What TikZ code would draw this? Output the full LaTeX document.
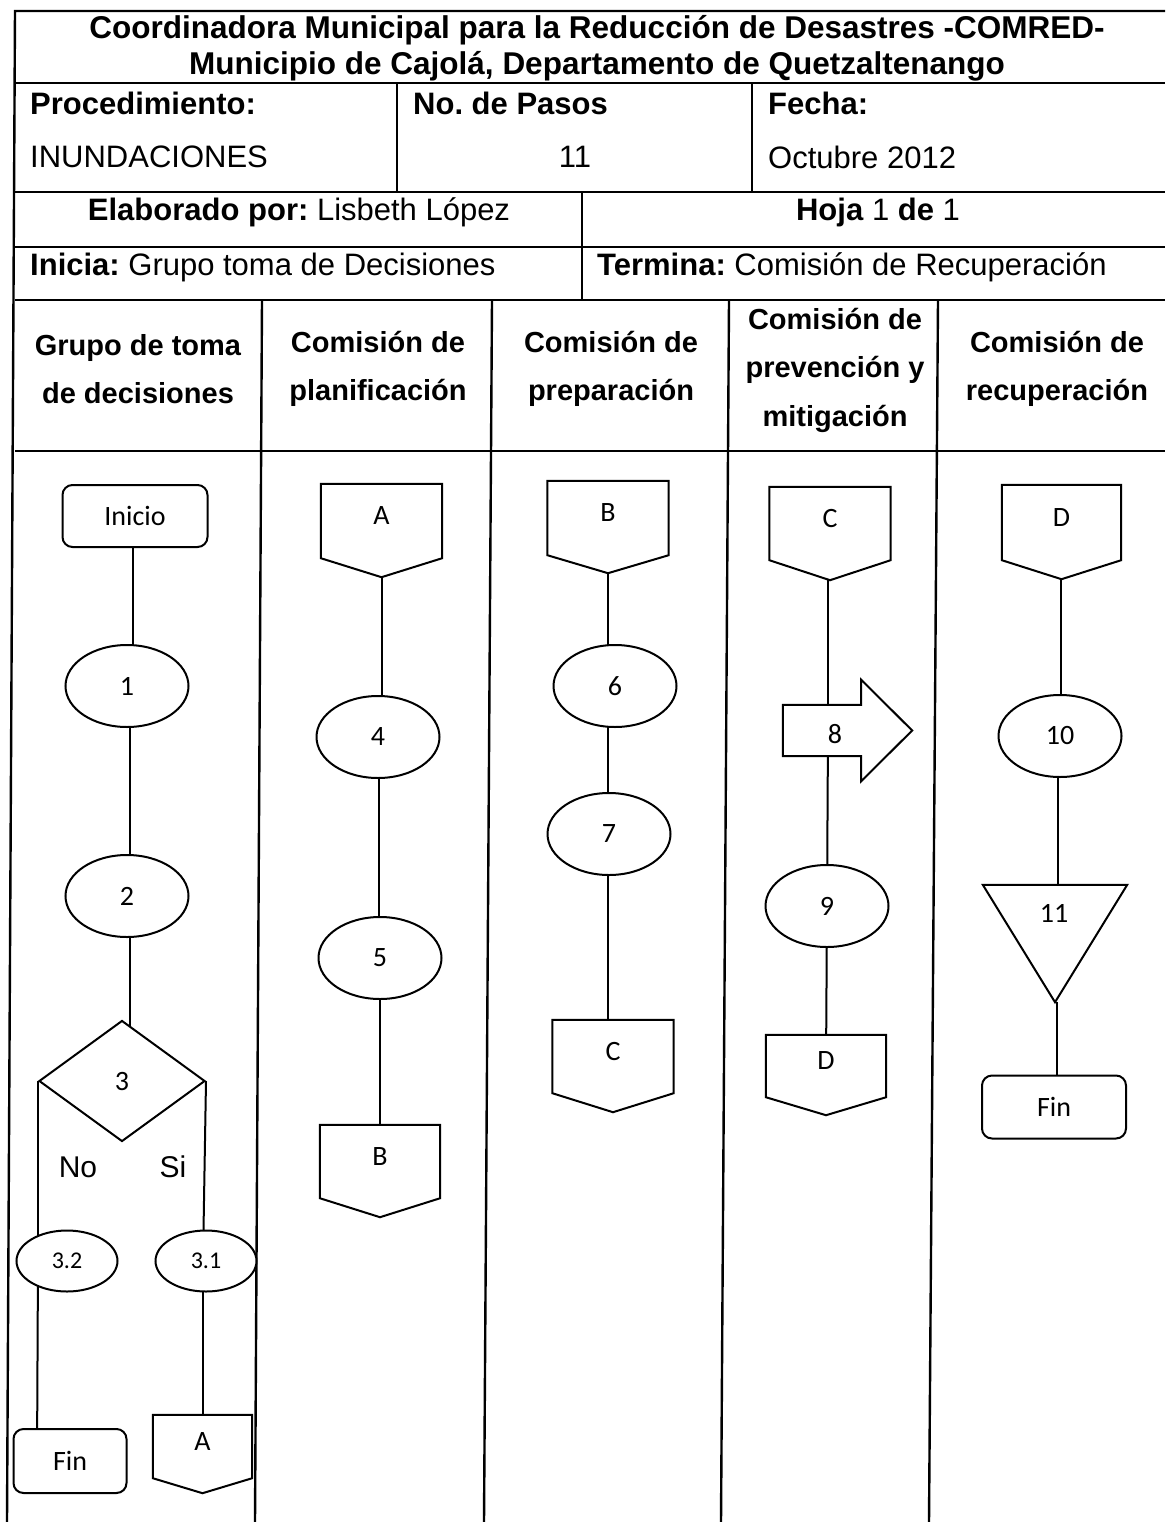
\documentclass[tikz,border=0pt]{standalone}
\usepackage{fontspec}
\setmainfont{Liberation Sans}
\newfontfamily\shapefont{Carlito}
\usetikzlibrary{shapes.geometric,backgrounds,calc}
\frenchspacing

% off-page connector: name, centre x, top y, width, box height, point depth, label
\newcommand\offpg[7]{%
  \node[frame, minimum width=#4pt, minimum height=#5pt] (#1) at (#2,#3+#5/2) {};
  \draw[link, fill=white] (#1.north west) -- (#1.north east) -- (#1.south east)
     -- ($(#1.south)+(0,#6)$) -- (#1.south west) -- cycle;
  \node[lbl] (#1-t) at ([yshift=5pt]#1.center) {#7};
  \coordinate (#1-tip) at ($(#1.south)+(0,#6)$);
}

\begin{document}
\begin{tikzpicture}[x=1pt,y=-1pt,
  grid/.style={line width=2.4pt},
  ttl/.style={font=\fontsize{31.5}{36}\selectfont\bfseries, inner sep=0pt},
  cell/.style={font=\fontsize{31}{36}\selectfont, inner sep=0pt, anchor=west},
  ccell/.style={font=\fontsize{31}{36}\selectfont, inner sep=0pt},
  lanehdr/.style={font=\fontsize{29}{48.5}\selectfont\bfseries, align=center, inner sep=0pt},
  link/.style={line width=2pt},
  frame/.style={draw=none, inner sep=0pt},
  lbl/.style={font=\shapefont\fontsize{28}{30}\selectfont, inner sep=0pt},
  shp/.style={draw, line width=2pt, fill=white, font=\shapefont\fontsize{28}{30}\selectfont, inner sep=0pt},
  proc/.style={shp, ellipse, minimum width=123pt, minimum height=82pt},
  subproc/.style={shp, ellipse, minimum width=101pt, minimum height=61pt, font=\shapefont\fontsize{24}{26}\selectfont},
  term/.style={shp, rectangle, rounded corners=10pt},
  choice/.style={shp, diamond, minimum width=166pt, minimum height=121pt},
  branch/.style={font=\fontsize{30}{34}\selectfont, inner sep=0pt},
]
\useasboundingbox (0,0) rectangle (1165,1522);

% ---------- header table ----------
\draw[grid] (1165,11) -- (15,11) -- (7,1522);
\foreach \yy in {83,192,247,300,451}
  \draw[grid] (15,\yy) -- (1165,\yy);
\draw[grid] (397,83) -- (397,192);
\draw[grid] (752,83) -- (752,192);
\draw[grid] (582,192) -- (582,300);
\draw[grid] (262,300) -- (255,1522);
\draw[grid] (492,300) -- (484,1522);
\draw[grid] (729,300) -- (721,1522);
\draw[grid] (938,300) -- (929,1522);

\node[ttl] (t1) at (597,30) {Coordinadora Municipal para la Reducción de Desastres -COMRED-};
\node[ttl] (t2) at (597,66) {Municipio de Cajolá, Departamento de Quetzaltenango};

\node[cell] (c1) at (30,103) {\bfseries Procedimiento:};
\node[cell] (c2) at (413,103) {\bfseries No. de Pasos};
\node[cell] (c3) at (768,103) {\bfseries Fecha:};
\node[cell] (c4) at (30,157) {INUNDACIONES};
\node[ccell] (c5) at (575,157) {11};
\node[cell] (c6) at (768,157) {Octubre 2012};
\node[ccell] (c7) at (299,212) {\textbf{Elaborado por:} Lisbeth López};
\node[ccell] (c8) at (878,212) {\textbf{Hoja} 1 \textbf{de} 1};
\node[cell] (c9) at (30,267) {\textbf{Inicia:} Grupo toma de Decisiones};
\node[cell] (c10) at (597,267) {\textbf{Termina:} Comisión de Recuperación};

\node[lanehdr] (h1) at (138,369) {Grupo de toma\\de decisiones};
\node[lanehdr] (h2) at (378,369) {Comisión de\\planificación};
\node[lanehdr] (h3) at (611,369) {Comisión de\\preparación};
\node[lanehdr] (h4) at (835,370) {Comisión de\\prevención y\\mitigación};
\node[lanehdr] (h5) at (1057,369) {Comisión de\\recuperación};

% ---------- lane 1: Grupo de toma de decisiones ----------
\node[term, minimum width=145pt, minimum height=62pt] (ini) at (135,516) {Inicio};
\node[proc] (p1) at (127,686) {1};
\node[proc] (p2) at (127,896) {2};
\node[choice] (p3) at (122,1081) {3};
\node[branch] (no) at (78,1167) {No};
\node[branch] (si) at (173,1167) {Si};
\node[subproc] (p32) at (67,1261) {3.2};
\node[subproc] (p31) at (206,1261) {3.1};
\node[term, minimum width=113pt, minimum height=64pt] (fin1) at (70,1461) {Fin};
\offpg{ca1}{202.5}{1415}{99}{63}{15}{A}

% ---------- lane 2: planificación ----------
\offpg{ca2}{381.5}{484}{121}{74}{19}{A}
\node[proc] (p4) at (378,737) {4};
\node[proc] (p5) at (380,958) {5};
\offpg{cb2}{380}{1125}{120}{73}{19}{B}

% ---------- lane 3: preparación ----------
\offpg{cb3}{608}{481}{121}{74}{18}{B}
\node[proc] (p6) at (615,686) {6};
\node[proc] (p7) at (609,834) {7};
\offpg{cc3}{613}{1020}{121}{73}{19}{C}

% ---------- lane 4: prevención y mitigación ----------
\offpg{cc4}{830}{487}{121}{73}{20}{C}
\node[frame, minimum width=78pt, minimum height=51pt] (p8) at (822,730.5) {};
\draw[link, fill=white] (p8.north west) -- (p8.north east) -- ($(p8.north east)+(0,-25)$)
   -- ($(p8.east)+(51,0)$) -- ($(p8.south east)+(0,25)$) -- (p8.south east)
   -- (p8.south west) -- cycle;
\node[lbl] (p8-t) at (835,734) {8};
\node[proc] (p9) at (827,906) {9};
\offpg{cd4}{826}{1035}{120}{62}{18}{D}

% ---------- lane 5: recuperación ----------
\offpg{cd5}{1061.5}{485}{119}{75}{19}{D}
\node[proc] (p10) at (1060,736) {10};
\node[frame, minimum width=144pt, minimum height=117pt] (p11) at (1055,943.5) {};
\draw[link, fill=white] (p11.north west) -- (p11.north east) -- (p11.south) -- cycle;
\node[lbl] (p11-t) at (1054,913) {11};
\node[term, minimum width=144pt, minimum height=63pt] (fin2) at (1054,1107) {Fin};

% ---------- connectors (behind the shapes) ----------
\begin{scope}[on background layer]
  \draw[link] ([xshift=-2pt]ini.south) -- ([xshift=-2pt]ini.south |- p1.center);
  \draw[link] ([xshift=3pt]p1.center) -- ([xshift=3pt]p1.center |- p2.center);
  \draw[link] ([xshift=3pt]p2.center) -- ([xshift=3pt]p2.center |- p3.center);
  \draw[link] (p3.west) -- (p3.west |- p32.center);
  \draw[link] (p3.west |- p32.center) -- ([xshift=-1pt]p3.west |- fin1.center);
  \draw[link] (p3.east) -- ([xshift=-3pt]p3.east |- p31.center);
  \draw[link] ([xshift=-3pt]p3.east |- p31.center) -- ([xshift=-3pt]p3.east |- ca1.center);

  \draw[link] (ca2-tip) -- (ca2-tip |- p4.center);
  \draw[link] ([xshift=1pt]p4.center) -- ([xshift=1pt]p4.center |- p5.center);
  \draw[link] (p5.center) -- (p5.center |- cb2.center);

  \draw[link] (cb3-tip) -- (cb3-tip |- p6.center);
  \draw[link] (cb3-tip |- p6.center) -- (cb3-tip |- p7.center);
  \draw[link] (cb3-tip |- p7.center) -- (cb3-tip |- cc3.center);

  \draw[link] ([xshift=-2pt]cc4-tip) -- ([xshift=-2pt]cc4-tip |- p8.center);
  \draw[link] ([xshift=-2pt]cc4-tip |- p8.center) -- ([xshift=-3pt]cc4-tip |- p9.center);
  \draw[link] (p9.center) -- ([xshift=-1pt]p9.center |- cd4.center);

  \draw[link] ([xshift=-1pt]cd5-tip) -- ([xshift=-1pt]cd5-tip |- p10.center);
  \draw[link] ([xshift=-2pt]p10.center) -- ([xshift=-2pt]p10.center |- p11.center);
  \draw[link] ([xshift=2pt]p11.south) -- ([xshift=2pt]p11.south |- fin2.center);
\end{scope}
\end{tikzpicture}
\end{document}
